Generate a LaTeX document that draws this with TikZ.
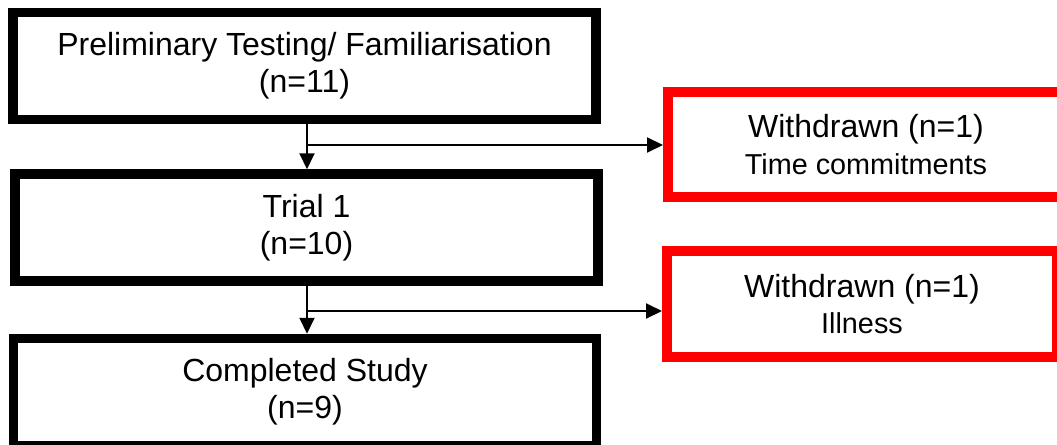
\documentclass[tikz,border=0pt]{standalone}
\usepackage{fontspec}
\setmainfont{Liberation Sans}
\usetikzlibrary{arrows.meta,positioning}

\begin{document}
\begin{tikzpicture}[x=0.5pt,y=-0.5pt,
    stage/.style={draw, line width=4.75pt, minimum width=291.5pt, minimum height=53.5pt,
        inner sep=0pt, align=center, font=\fontsize{16}{18.4}\selectfont},
    drop/.style={draw=red, line width=5pt, minimum height=52.5pt,
        inner sep=0pt, align=center, font=\fontsize{16}{18.4}\selectfont},
    why/.style={font=\fontsize{14.4}{16.5}\selectfont},
    flow/.style={line width=1pt, -{Triangle[width=7.5pt,length=8pt]}}
]
\useasboundingbox (0,0) rectangle (1057,445);

% main path
\node[stage] (prelim) at (304.5,66) {Preliminary Testing/ Familiarisation\\(n=11)};
\node[stage] (trial) at (306.5,227.5) {Trial 1\\(n=10)};
\node[stage] (done) at (305,392) {Completed Study\\(n=9)};

% withdrawals
\node[drop, minimum width=198pt] (wd1) at (866,144.5)
    {Withdrawn (n=1)\\{\fontsize{14.4}{16.5}\selectfont Time commitments}};
\node[drop, minimum width=195pt, minimum height=53pt] (wd2) at (862,304)
    {Withdrawn (n=1)\\{\fontsize{14.4}{16.5}\selectfont Illness}};

\coordinate (split1) at (307,145);
\coordinate (split2) at (307,311);

\draw[flow] (prelim.south -| split1) -- (trial.north -| split1);
\draw[flow] (split1) -- (wd1.west |- split1);
\draw[flow] (trial.south -| split2) -- (done.north -| split2);
\draw[flow] (split2) -- (wd2.west |- split2);

\end{tikzpicture}
\end{document}
